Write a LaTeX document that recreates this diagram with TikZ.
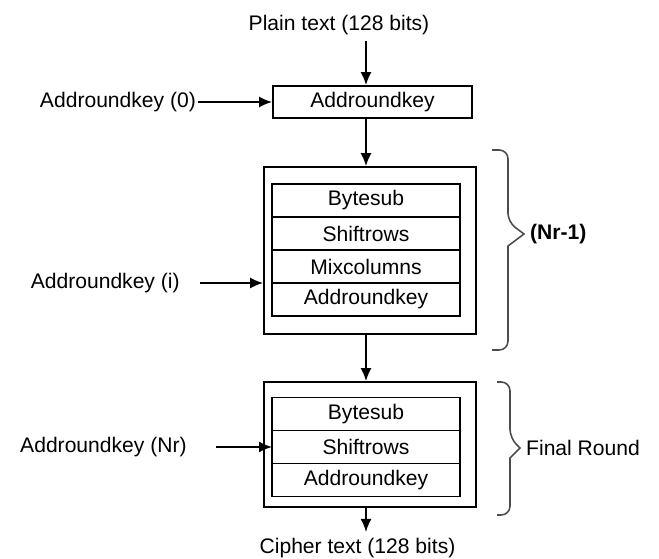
\documentclass[tikz,border=0pt]{standalone}
\usepackage{fontspec}
\setmainfont{Liberation Sans}
\usetikzlibrary{arrows.meta, positioning}

\begin{document}
\begin{tikzpicture}[
    font=\fontsize{12}{14}\selectfont,
    block/.style={draw, line width=1pt, minimum width=3.98cm, minimum height=0.64cm, inner sep=0pt},
    roundbox/.style={draw, line width=1pt, minimum width=4.24cm, inner sep=0pt},
    stage/.style={draw, line width=1pt, minimum width=3.76cm, minimum height=0.66cm, inner sep=0pt, outer sep=0pt},
    keyin/.style={anchor=east, inner ysep=2pt},
    arrow/.style={-{Latex[length=2.6mm,width=2.2mm]}, line width=1pt},
    brace/.style={draw=black!70, line width=0.9pt, rounded corners=5pt}
]

% canvas
\useasboundingbox (0,0) rectangle (13.18,-11.18);

% Plain text input
\node (plain) at (6.78,-0.5) {Plain text (128 bits)};

% Initial round
\node[block] (ark0) at (7.45,-2.04) {Addroundkey};
\node[keyin, inner xsep=1pt] (key0) at (3.96,-2.04) {Addroundkey (0)};

% Main rounds
\node[roundbox, minimum height=3.34cm] (main) at (7.40,-5.01) {};
\node[stage] (bs1) at (7.32,-4.01) {Bytesub};
\node[stage, below=0pt of bs1] (sr1) {Shiftrows};
\node[stage, below=0pt of sr1] (mc1) {Mixcolumns};
\node[stage, below=0pt of mc1] (ark1) {Addroundkey};
\node[keyin, inner xsep=0.4cm] (keyi) at (4.0,-5.66) {Addroundkey (i)};

% Final round
\node[roundbox, minimum height=2.5cm] (final) at (7.40,-8.89) {};
\node[stage] (bs2) at (7.32,-8.28) {Bytesub};
\node[stage, below=0pt of bs2] (sr2) {Shiftrows};
\node[stage, below=0pt of sr2] (ark2) {Addroundkey};
\node[keyin, inner xsep=0.58cm] (keynr) at (4.32,-8.94) {Addroundkey (Nr)};

% Cipher text output
\node (cipher) at (7.15,-10.96) {Cipher text (128 bits)};

% Arrows
\draw[arrow] (plain.south -| bs1) -- (ark0.north -| bs1);
\draw[arrow] (ark0.south -| bs1) -- (main.north -| bs1);
\draw[arrow] (main.south -| bs1) -- (final.north -| bs1);
\draw[arrow] (final.south -| bs1) -- (cipher.north -| bs1);
\draw[arrow] (key0.east) -- (ark0.west);
\draw[arrow] (keyi.east) -- (keyi.east -| main.west);
\draw[arrow] (keynr.east) -- (keynr.east -| sr2.west);

% Braces
\draw[brace] (9.84,-3.0) -| (10.16,-4.44) [sharp corners] -- (10.48,-4.68) coordinate (tip1) -- (10.16,-4.92) [rounded corners=5pt] |- (9.84,-7.0);
\node[anchor=west] (rounds) at (tip1) {\bfseries (Nr-1)};
\draw[brace] (9.94,-7.64) -| (10.2,-8.76) [sharp corners] -- (10.4,-8.96) coordinate (tip2) -- (10.2,-9.16) [rounded corners=5pt] |- (9.94,-10.3);
\node[anchor=west] (last) at (tip2) {Final Round};

\end{tikzpicture}
\end{document}
